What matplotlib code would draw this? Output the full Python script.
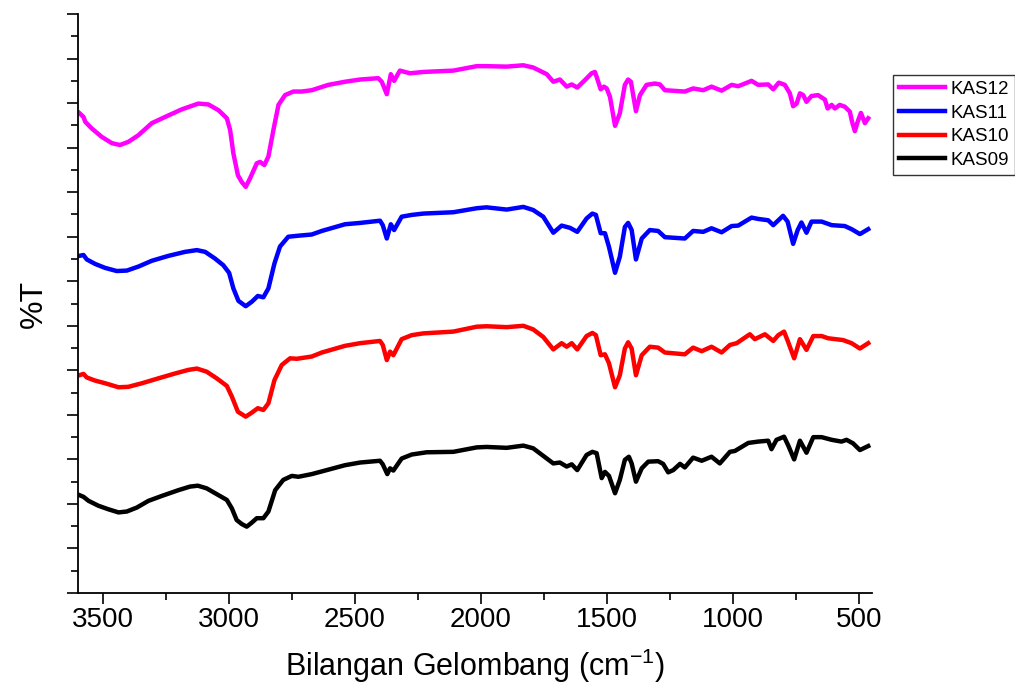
import matplotlib.pyplot as plt
import numpy as np

plt.rcParams['font.family'] = ['Liberation Sans', 'DejaVu Sans']

# wavenumber (cm-1) and %T (offset, arbitrary units)
wn_kas12 = [3595, 3578, 3571, 3545, 3505, 3465, 3433, 3400, 3360, 3307, 3254, 3188, 3122, 3082, 3042,
            3009, 2996, 2983, 2965, 2950, 2934, 2917, 2890, 2877, 2860, 2844, 2824, 2804, 2778, 2745,
            2712, 2672, 2606, 2540, 2480, 2408, 2394, 2374, 2358, 2345, 2322, 2282, 2229, 2110, 2017,
            1978, 1898, 1832, 1793, 1739, 1713, 1687, 1660, 1640, 1618, 1587, 1561, 1548, 1541, 1525,
            1512, 1501, 1488, 1468, 1449, 1429, 1416, 1405, 1385, 1369, 1343, 1310, 1290, 1270, 1191,
            1158, 1118, 1085, 1045, 1005, 979, 926, 900, 860, 840, 818, 794, 774, 761, 747, 734, 721,
            708, 688, 662, 635, 624, 608, 595, 576, 556, 536, 527, 516, 505, 492, 476, 463]
t_kas12 = [107.8, 106.9, 105.8, 104.3, 102.4, 101.0, 100.6, 101.3, 102.8, 105.5, 106.9, 108.6, 109.9,
           109.7, 108.4, 106.6, 104.0, 98.7, 93.8, 92.3, 91.2, 93.1, 96.5, 96.8, 96.1, 98.0, 104.0,
           109.6, 111.8, 112.6, 112.6, 112.9, 114.1, 114.8, 115.3, 115.6, 114.8, 112.0, 116.5, 115.0,
           117.3, 116.7, 117.0, 117.3, 118.3, 118.3, 118.2, 118.5, 118.0, 116.5, 114.8, 115.3, 113.7,
           114.2, 113.5, 115.2, 116.7, 117.0, 115.9, 113.1, 113.7, 113.3, 111.4, 104.9, 107.7, 114.1,
           115.3, 114.8, 108.2, 111.8, 114.1, 114.4, 114.2, 112.9, 112.6, 113.3, 112.9, 113.7, 112.8,
           114.1, 113.8, 115.0, 114.1, 114.2, 113.1, 114.6, 114.1, 112.2, 109.3, 109.9, 112.2, 111.8,
           110.3, 111.6, 111.8, 110.8, 108.8, 109.6, 108.8, 109.6, 109.2, 108.1, 105.8, 103.7, 105.8,
           107.8, 105.5, 106.6]

wn_kas11 = [3595, 3578, 3565, 3532, 3492, 3446, 3406, 3360, 3307, 3241, 3175, 3128, 3095, 3056, 3023,
            3000, 2983, 2963, 2934, 2910, 2886, 2864, 2844, 2820, 2798, 2765, 2731, 2672, 2632, 2540,
            2480, 2401, 2390, 2374, 2358, 2345, 2315, 2275, 2229, 2110, 2017, 1978, 1898, 1832, 1793,
            1753, 1713, 1680, 1647, 1618, 1581, 1558, 1544, 1525, 1508, 1492, 1468, 1449, 1429, 1416,
            1402, 1385, 1362, 1330, 1297, 1270, 1191, 1158, 1118, 1085, 1045, 1005, 979, 926, 900, 860,
            840, 801, 783, 761, 743, 728, 708, 688, 648, 608, 556, 529, 496, 463]
t_kas11 = [75.7, 75.9, 74.9, 73.9, 73.0, 72.3, 72.4, 73.3, 74.6, 75.7, 76.6, 77.0, 76.6, 75.1, 73.6,
           71.9, 68.4, 65.6, 64.4, 65.4, 66.7, 66.4, 68.4, 74.0, 77.8, 80.0, 80.2, 80.5, 81.3, 82.8,
           83.1, 83.6, 82.6, 79.6, 82.8, 81.5, 84.5, 84.9, 85.2, 85.5, 86.4, 86.6, 86.1, 86.7, 86.0,
           84.5, 80.9, 82.5, 82.0, 81.1, 84.1, 85.2, 84.9, 80.8, 80.8, 77.7, 71.9, 75.5, 82.2, 83.1,
           81.5, 74.9, 79.6, 81.5, 81.3, 79.9, 79.6, 81.3, 81.1, 81.9, 81.0, 82.4, 82.5, 84.3, 84.0,
           83.7, 82.6, 84.7, 83.4, 78.4, 81.5, 83.2, 80.9, 83.4, 83.4, 82.6, 82.4, 81.7, 80.6, 81.7]

wn_kas10 = [3595, 3578, 3565, 3532, 3492, 3439, 3400, 3346, 3281, 3214, 3162, 3128, 3089, 3049, 3009,
            2989, 2965, 2934, 2910, 2886, 2864, 2844, 2820, 2791, 2758, 2731, 2672, 2632, 2540, 2480,
            2401, 2390, 2374, 2361, 2348, 2315, 2275, 2229, 2110, 2017, 1978, 1898, 1832, 1793, 1753,
            1713, 1680, 1660, 1640, 1618, 1581, 1558, 1544, 1525, 1508, 1492, 1468, 1449, 1429, 1416,
            1402, 1385, 1362, 1330, 1297, 1270, 1191, 1158, 1124, 1085, 1045, 1012, 985, 933, 913, 873,
            840, 820, 797, 781, 757, 734, 708, 681, 648, 622, 563, 529, 496, 463]
t_kas10 = [48.9, 49.2, 48.4, 47.7, 47.1, 46.2, 46.3, 47.1, 48.2, 49.3, 50.1, 50.4, 49.7, 48.2, 46.5,
           44.1, 40.7, 39.6, 40.5, 41.5, 41.1, 42.6, 47.8, 51.2, 52.7, 52.6, 53.1, 54.0, 55.5, 56.1,
           56.6, 55.7, 52.3, 54.2, 53.4, 57.0, 57.9, 58.3, 58.7, 59.8, 59.9, 59.7, 60.0, 59.2, 57.5,
           54.7, 56.1, 55.3, 56.1, 54.7, 57.7, 58.4, 57.9, 53.4, 53.6, 51.6, 46.2, 48.9, 54.9, 56.3,
           54.9, 48.9, 53.4, 55.3, 55.1, 54.0, 53.6, 55.1, 54.3, 55.3, 54.0, 55.7, 56.1, 58.1, 57.0,
           58.1, 56.6, 57.9, 58.7, 56.4, 52.7, 57.0, 54.6, 57.7, 57.7, 57.2, 56.8, 56.1, 54.9, 56.1]

wn_kas09 = [3595, 3578, 3558, 3519, 3479, 3439, 3406, 3366, 3320, 3267, 3201, 3155, 3124, 3089, 3049,
            3009, 2989, 2970, 2950, 2930, 2910, 2890, 2864, 2844, 2817, 2785, 2751, 2725, 2672, 2619,
            2540, 2480, 2401, 2390, 2372, 2361, 2348, 2315, 2275, 2216, 2110, 2017, 1978, 1898, 1832,
            1793, 1753, 1713, 1687, 1660, 1640, 1618, 1581, 1558, 1541, 1521, 1508, 1492, 1468, 1449,
            1429, 1413, 1402, 1385, 1362, 1336, 1297, 1277, 1257, 1237, 1210, 1191, 1158, 1124, 1085,
            1052, 1012, 992, 939, 900, 860, 847, 827, 797, 781, 757, 734, 708, 681, 648, 608, 569, 549,
            523, 496, 463]
t_kas09 = [22.0, 21.6, 20.7, 19.6, 18.8, 18.1, 18.3, 19.2, 20.7, 21.8, 23.1, 23.9, 24.1, 23.5, 22.2,
           20.9, 19.0, 16.4, 15.5, 14.9, 15.8, 16.8, 16.8, 18.3, 23.1, 25.4, 26.3, 26.1, 26.7, 27.5,
           28.7, 29.3, 29.7, 28.9, 26.7, 28.0, 27.5, 30.2, 31.1, 31.6, 31.7, 32.7, 32.8, 32.6, 33.1,
           32.5, 30.8, 29.1, 29.3, 28.4, 28.9, 27.6, 31.0, 31.7, 31.4, 25.8, 27.2, 26.3, 22.4, 25.4,
           29.9, 30.6, 29.1, 25.0, 28.0, 29.5, 29.6, 29.0, 27.1, 27.6, 29.0, 28.2, 30.4, 29.7, 30.6,
           29.1, 31.7, 31.9, 33.7, 34.0, 34.2, 32.3, 34.4, 35.1, 33.2, 30.0, 34.2, 31.5, 35.0, 35.0,
           34.4, 34.0, 34.4, 33.6, 32.1, 33.0]

fig = plt.figure(figsize=(10.15, 6.89), dpi=100)
ax = fig.add_axes([0.0768, 0.1393, 0.7823, 0.8403])

ax.plot(wn_kas12, t_kas12, color='#FF00FF', lw=3.2, label='KAS12', solid_joinstyle='round')
ax.plot(wn_kas11, t_kas11, color='#0000FF', lw=3.2, label='KAS11', solid_joinstyle='round')
ax.plot(wn_kas10, t_kas10, color='#FF0000', lw=3.2, label='KAS10', solid_joinstyle='round')
ax.plot(wn_kas09, t_kas09, color='black', lw=3.2, label='KAS09', solid_joinstyle='round')

ax.set_xlim(3600, 448)
ax.set_ylim(0, 130)
ax.set_xticks([3500, 3000, 2500, 2000, 1500, 1000, 500])
ax.set_xticks(np.arange(3250, 400, -500), minor=True)
ax.set_yticks(np.arange(0, 131, 10))
ax.set_yticks(np.arange(5, 130, 10), minor=True)
ax.set_yticklabels([])
ax.spines['top'].set_visible(False)
ax.spines['right'].set_visible(False)
for s in ['left', 'bottom']:
    ax.spines[s].set_linewidth(1.3)
ax.tick_params(which='major', length=8, width=1.2, labelsize=20, pad=2)
ax.tick_params(which='minor', length=5, width=1.2)

ax.set_xlabel('Bilangan Gelombang (cm$^{\\mathregular{-1}}$)', fontsize=22, labelpad=10)
ax.set_ylabel('%T', fontsize=23, labelpad=11)

leg = fig.legend(loc='upper left', bbox_to_anchor=(0.88, 0.891), fontsize=13.5, frameon=True,
                 fancybox=False, handlelength=2.45, handletextpad=0.3, labelspacing=0.35,
                 borderpad=0.3, borderaxespad=0)
leg.get_frame().set_edgecolor('black')
leg.get_frame().set_linewidth(1.0)

plt.savefig('out.png', dpi=100)
